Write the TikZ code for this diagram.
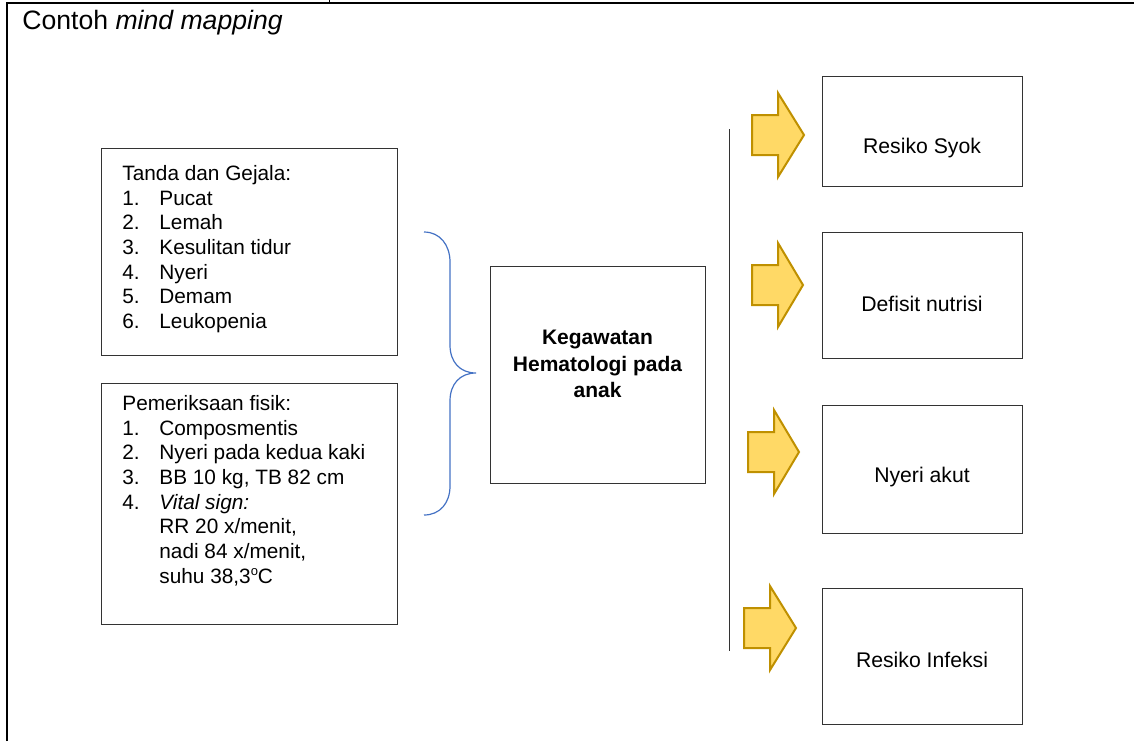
\documentclass[tikz,border=0pt]{standalone}
\usepackage{fontspec}
\setmainfont{Liberation Sans}
\definecolor{kuning}{HTML}{FFD966}
\definecolor{emas}{HTML}{BF9000}
\definecolor{biru}{HTML}{4472C4}
\newcommand{\nomor}[1]{\makebox[18.5pt][l]{#1}}

\begin{document}
\begin{tikzpicture}[x=0.5pt,y=-0.5pt,
    kotak/.style={draw=black!80, line width=0.5pt, inner sep=0pt},
    isi/.style={anchor=north west, inner sep=0pt, align=left, font=\fontsize{10.4}{12.35}\selectfont},
    judul/.style={inner sep=0pt, align=center, font=\fontsize{10.6}{12.5}\selectfont},
    panah/.style={draw=emas, fill=kuning, line width=1pt, line join=miter}]
    \useasboundingbox (0,0) rectangle (1134,741);
    % bingkai tabel
    \draw[line width=1pt] (7,741) -- (7,3) -- (1134,3);
    \draw[line width=0.5pt] (329,0) -- (329,3);
    \node[anchor=base west, inner sep=0pt, font=\fontsize{13.3}{16}\selectfont] (contoh) at (22,29) {Contoh \textit{mind mapping}};
    % kotak kiri
    \node[kotak, anchor=north west, minimum width=148pt, minimum height=103.5pt] (tanda) at (101,148) {};
    \node[isi] (tanda-isi) at (122,165) {Tanda dan Gejala:\\
        \nomor{1.}Pucat\\
        \nomor{2.}Lemah\\
        \nomor{3.}Kesulitan tidur\\
        \nomor{4.}Nyeri\\
        \nomor{5.}Demam\\
        \nomor{6.}Leukopenia};
    \node[kotak, anchor=north west, minimum width=148pt, minimum height=120.5pt] (periksa) at (101,383) {};
    \node[isi] (periksa-isi) at (122,395) {Pemeriksaan fisik:\\
        \nomor{1.}Composmentis\\
        \nomor{2.}Nyeri pada kedua kaki\\
        \nomor{3.}BB 10 kg, TB 82 cm\\
        \nomor{4.}\textit{Vital sign:}\\
        \nomor{}RR 20 x/menit,\\
        \nomor{}nadi 84 x/menit,\\
        \nomor{}suhu 38,3\raisebox{0.75ex}{\fontsize{6.5}{7}\selectfont o}C};
    % kurung kurawal
    \draw[biru, line width=0.6pt] (424,232) .. controls (440,232) and (450,245) .. (450,262) -- (450,345)
        .. controls (450,362) and (460,373) .. (476,373) .. controls (460,373) and (450,384) .. (450,401)
        -- (450,486) .. controls (450,503) and (440,515) .. (424,515);
    % kotak tengah
    \node[kotak, anchor=north west, minimum width=107.5pt, minimum height=108.5pt] (pusat) at (490,266) {};
    \node[judul, font=\bfseries\fontsize{10.5}{13.3}\selectfont] (pusat-isi) at (597.5,364) {Kegawatan\\Hematologi pada\\anak};
    % garis tegak
    \draw[black!80, line width=0.5pt] (729.5,129) -- (729.5,651);
    % panah
    \draw[panah, shift={(752,135)}] (0,-20) -- (26,-20) -- (26,-42) -- (52,0) -- (26,42) -- (26,20) -- (0,20) -- cycle;
    \draw[panah, shift={(752,285)}] (0,-20) -- (26,-20) -- (26,-42) -- (51,0) -- (26,42) -- (26,20) -- (0,20) -- cycle;
    \draw[panah, shift={(748,452)}] (0,-20) -- (26,-20) -- (26,-42) -- (51,0) -- (26,42) -- (26,20) -- (0,20) -- cycle;
    \draw[panah, shift={(744,628)}] (0,-20) -- (26,-20) -- (26,-42) -- (52,0) -- (26,42) -- (26,20) -- (0,20) -- cycle;
    % kotak kanan
    \node[kotak, anchor=north west, minimum width=100pt, minimum height=55pt] (syok) at (822,76) {};
    \node[judul] (syok-isi) at (922,148) {Resiko Syok};
    \node[kotak, anchor=north west, minimum width=100pt, minimum height=63pt] (nutrisi) at (822,232) {};
    \node[judul] (nutrisi-isi) at (922,304) {Defisit nutrisi};
    \node[kotak, anchor=north west, minimum width=100pt, minimum height=64pt] (nyeri) at (822,405) {};
    \node[judul] (nyeri-isi) at (922,477) {Nyeri akut};
    \node[kotak, anchor=north west, minimum width=100pt, minimum height=68pt] (infeksi) at (822,588) {};
    \node[judul] (infeksi-isi) at (922,660) {Resiko Infeksi};
\end{tikzpicture}
\end{document}
